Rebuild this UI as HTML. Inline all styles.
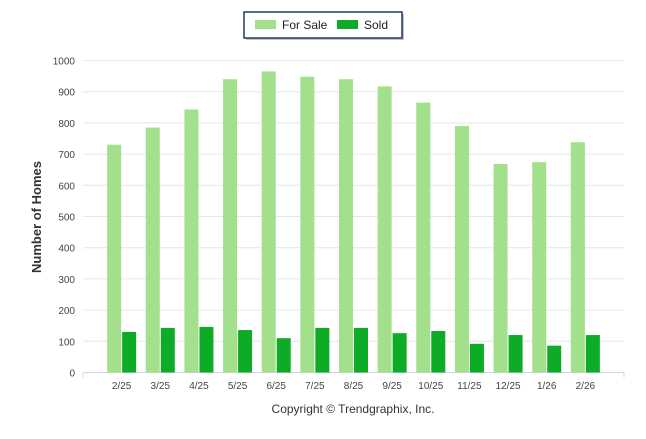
<!DOCTYPE html>
<html><head><meta charset="utf-8"><style>
body{margin:0;background:#fff;font-family:"Liberation Sans",Arial,sans-serif}
svg text{font-family:"Liberation Sans",Arial,sans-serif}
</style></head><body>
<svg id="chart" width="646" height="434">
<g id="grid"></g><g id="bars"></g><g id="labels"></g>
<g>
<rect x="246" y="14" width="158" height="26" fill="#888" opacity="0.5"/>
<rect x="244" y="12" width="158" height="26" fill="#fff" stroke="#1f3864" stroke-width="1.5"/>
<rect x="255" y="20" width="21" height="9" fill="#a2e08b"/>
<text x="282" y="29" font-size="12" fill="#222">For Sale</text>
<rect x="337" y="20" width="21" height="9" fill="#0dab26"/>
<text x="364" y="29" font-size="12" fill="#222">Sold</text>
</g>
<text transform="translate(41,217) rotate(-90)" text-anchor="middle" font-size="13" font-weight="bold" fill="#333">Number of Homes</text>
<text x="353" y="413" text-anchor="middle" font-size="12" fill="#333">Copyright © Trendgraphix, Inc.</text>
</svg>
<script>
const categories=["2/25","3/25","4/25","5/25","6/25","7/25","8/25","9/25","10/25","11/25","12/25","1/26","2/26"];
const forSale=[730,785,843,940,965,948,940,917,865,790,668,674,738];
const sold=[130,143,146,136,110,143,143,126,133,92,120,86,120];
const yTicks=[0,100,200,300,400,500,600,700,800,900,1000];
const NS="http://www.w3.org/2000/svg";
const L=83,R=624,T=60.5,B=372.5;
const band=(R-L)/(categories.length+1);
const x=i=>L+band*(i+1);
const y=v=>B-(B-T)*v/1000;
function mk(tag,attrs,parent){const e=document.createElementNS(NS,tag);for(const k in attrs)e.setAttribute(k,attrs[k]);document.getElementById(parent).appendChild(e);return e;}
yTicks.forEach(v=>{
 const g=mk("line",{x1:L,x2:R,y1:y(v),y2:y(v),stroke:v===0?"#ccd6eb":"#e6e6e6","stroke-width":1},"grid");
 
 
 const t=mk("text",{x:75,y:y(v)+4,"text-anchor":"end","font-size":"10",fill:"#444"},"labels");
 t.textContent=v;
 
 
});
[L,R].forEach(px=>{const t=mk("line",{x1:px,x2:px,y1:B,y2:B+5,stroke:"#ccd6eb"},"grid");
 
 });
categories.forEach((c,i)=>{
 const cx=x(i);
 const a=mk("rect",{x:cx-14.5,y:y(forSale[i]),width:14,height:B-y(forSale[i]),fill:"#a2e08b"},"bars");
 
 
 const b=mk("rect",{x:cx+0.5,y:y(sold[i]),width:14,height:B-y(sold[i]),fill:"#0dab26"},"bars");
 
 
 const t=mk("text",{x:cx,y:389,"text-anchor":"middle","font-size":"10",fill:"#444"},"labels");
 t.textContent=c;
 
 
});
</script>
</body></html>
